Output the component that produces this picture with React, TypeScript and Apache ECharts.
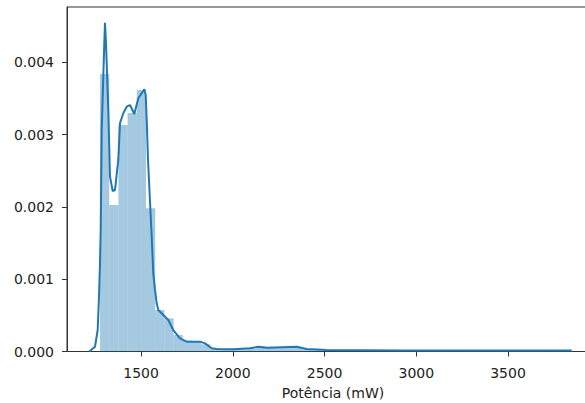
import React, { useEffect, useRef } from "react";
import * as echarts from "echarts";

// Histogram: 50 equal-width bins starting at binStart
const binStart = 1276;
const binWidth = 50.14;
const binHeights = [
  0.003838, 0.002027, 0.003133, 0.0033, 0.003617, 0.00198, 0.000574, 0.000459, 0.000228, 0.00015,
  0.00013, 0.0001, 0.00004, 0.00003, 0.00003, 0.00003, 0.00004, 0.00007, 0.00005, 0.00005,
  0.00006, 0.00006, 0.00003, 0.00002, 0.00002, 0.00001, 0.00001, 0.000008, 0.000005, 0.000005,
  0.000004, 0.000004, 0.000006, 0.000003, 0.000003, 0.000004, 0.000002, 0.000002, 0.000003, 0.000002,
  0.000002, 0.000002, 0.000003, 0.000002, 0.000002, 0.000002, 0.000002, 0.000002, 0.000002, 0.000004,
];

// KDE curve (x in mW, density)
const kdeX = [
  1217.6, 1248.6, 1263.3, 1270.4, 1275.9, 1279.7, 1285.2, 1299.3, 1303.1, 1308.6,
  1321.1, 1330.4, 1345.0, 1357.7, 1375.6, 1384.9, 1402.9, 1421.4, 1439.4, 1462.9,
  1484.7, 1517.4, 1525.0, 1530.5, 1537.5, 1557.7, 1566.4, 1575.7, 1584.9, 1593.7,
  1620.9, 1648.2, 1675.4, 1711.9, 1748.5, 1821.0, 1848.3, 1884.8, 1912.0, 2002.5,
  2093.5, 2138.8, 2184.6, 2348.1, 2402.6, 2511.6, 2911.0, 3400.0, 3847.0,
];
const kdeY = [
  0.0, 0.000066, 0.000297, 0.000758, 0.001224, 0.00168, 0.003064, 0.004267, 0.004548, 0.004267,
  0.00334, 0.002418, 0.00222, 0.002234, 0.002649, 0.00316, 0.003295, 0.003386, 0.003409, 0.003285,
  0.003502, 0.003627, 0.003548, 0.003202, 0.002649, 0.001588, 0.001082, 0.000851, 0.000667, 0.000574,
  0.000505, 0.000436, 0.000297, 0.000183, 0.000136, 0.000136, 0.000113, 0.000044, 0.000035, 0.00003,
  0.000044, 0.000066, 0.000053, 0.000066, 0.000035, 0.00002, 0.000014, 0.000014, 0.000014,
];

const xTicks = [1500, 2000, 2500, 3000, 3500];
const yTicks = [0, 0.001, 0.002, 0.003, 0.004];
const xLabel = "Potência (mW)";

const FONT = "DejaVu Sans";

export default function App() {
  const ref = useRef<HTMLDivElement>(null);
  useEffect(() => {
    if (!ref.current) return;
    const chart = echarts.init(ref.current, undefined, { renderer: "svg" });
    const bars = binHeights.map((h, i) => [binStart + i * binWidth, binStart + (i + 1) * binWidth, h]);
    const kde = kdeX.map((x, i) => [x, kdeY[i]]);
    chart.setOption({
      animation: false,
      grid: {
        left: 67,
        top: 7,
        width: 532,
        bottom: 51.5,
        outerBoundsMode: "none",
        containLabel: false,
        show: true,
        borderColor: "#333",
        borderWidth: 1,
        backgroundColor: "transparent",
      },
      xAxis: {
        type: "value",
        min: 1096,
        max: 3996,
        name: xLabel,
        nameLocation: "middle",
        nameGap: 34,
        nameTextStyle: { fontFamily: FONT, fontSize: 14, color: "#222" },
        axisLine: { show: true, lineStyle: { color: "#333", width: 1 } },
        axisTick: { show: true, length: 5, customValues: xTicks, lineStyle: { color: "#333" } },
        axisLabel: {
          customValues: xTicks,
          fontFamily: FONT,
          fontSize: 14,
          color: "#222",
          margin: 14,
          formatter: (v: number) => String(v),
        },
        splitLine: { show: false },
      },
      yAxis: {
        type: "value",
        min: 0,
        max: 0.004765,
        axisLine: { show: true, lineStyle: { color: "#333", width: 1 } },
        axisTick: { show: true, length: 5, customValues: yTicks, lineStyle: { color: "#333" } },
        axisLabel: {
          customValues: yTicks,
          fontFamily: FONT,
          fontSize: 14,
          color: "#222",
          margin: 13,
          formatter: (v: number) => v.toFixed(3),
        },
        splitLine: { show: false },
      },
      series: [
        {
          type: "custom",
          data: bars,
          encode: { x: [0, 1], y: 2 },
          renderItem: (params: any, api: any) => {
            const p0 = api.coord([api.value(0), api.value(2)]);
            const p1 = api.coord([api.value(1), 0]);
            return {
              type: "rect",
              shape: { x: p0[0], y: p0[1], width: p1[0] - p0[0], height: p1[1] - p0[1] },
              style: { fill: "rgba(31,119,180,0.4)" },
            };
          },
          z: 1,
        },
        {
          type: "line",
          data: kde,
          showSymbol: false,
          symbol: "none",
          lineStyle: { color: "#1f77b4", width: 2 },
          z: 2,
        },
      ],
    });
    return () => chart.dispose();
  }, []);
  return (
    <div
      ref={ref}
      style={{ position: "fixed", left: 0, top: 0, width: 585, height: 403, background: "#fff" }}
    />
  );
}
